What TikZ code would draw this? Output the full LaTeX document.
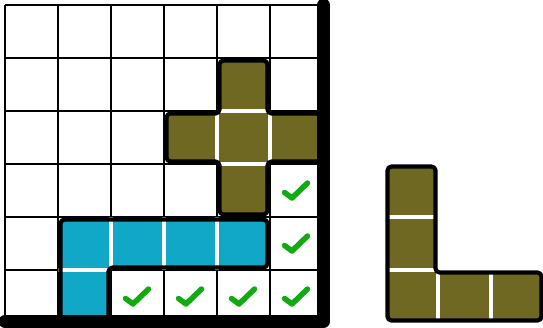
\documentclass[tikz,border=0pt]{standalone}
\definecolor{olive}{RGB}{110,104,34}
\definecolor{cyanpiece}{RGB}{16,168,198}
\definecolor{checkgreen}{RGB}{17,170,17}
\tikzset{
  gridline/.style={line width=1.1pt, black},
  pieceline/.style={line width=4.2pt, black, rounded corners=4pt, line join=round},
  sepline/.style={line width=4pt, white},
  checkmark/.style={line width=5.5pt, checkgreen, line cap=round, line join=round},
  border/.style={line width=13pt, black, line cap=round, line join=round}
}
\begin{document}
\begin{tikzpicture}[x=1pt,y=-1pt]
\useasboundingbox (0,0) rectangle (543,327);
% grid
\foreach \v in {5,58,111,164,217,270,323} {
  \draw[gridline] (\v,5) -- (\v,323);
  \draw[gridline] (5,\v) -- (323,\v);
}
% olive plus piece
\fill[olive, rounded corners=4pt] (219.5,60.5) -- (267.5,60.5) -- (267.5,113.5) -- (320.5,113.5) -- (320.5,161.5) -- (267.5,161.5) -- (267.5,214.5) -- (219.5,214.5) -- (219.5,161.5) -- (166.5,161.5) -- (166.5,113.5) -- (219.5,113.5) -- cycle;
\draw[sepline] (217,111) -- (270,111) (217,164) -- (270,164) (217,111) -- (217,164) (270,111) -- (270,164);
\draw[pieceline] (219.5,60.5) -- (267.5,60.5) -- (267.5,113.5) -- (320.5,113.5) -- (320.5,161.5) -- (267.5,161.5) -- (267.5,214.5) -- (219.5,214.5) -- (219.5,161.5) -- (166.5,161.5) -- (166.5,113.5) -- (219.5,113.5) -- cycle;
% blue piece
\fill[cyanpiece, rounded corners=4pt] (60.5,219.5) -- (267.5,219.5) -- (267.5,267.5) -- (108.5,267.5) -- (108.5,320.5) -- (60.5,320.5) -- cycle;
\draw[sepline] (111,217) -- (111,270) (164,217) -- (164,270) (217,217) -- (217,270) (58,270) -- (111,270);
\draw[pieceline] (60.5,219.5) -- (267.5,219.5) -- (267.5,267.5) -- (108.5,267.5) -- (108.5,320.5) -- (60.5,320.5) -- cycle;
% L piece
\fill[olive, rounded corners=4pt] (387.5,166.5) -- (435.5,166.5) -- (435.5,272.5) -- (541.5,272.5) -- (541.5,320.5) -- (387.5,320.5) -- cycle;
\draw[sepline] (385,217) -- (438,217) (385,270) -- (438,270) (438,270) -- (438,323) (491,270) -- (491,323);
\draw[pieceline] (387.5,166.5) -- (435.5,166.5) -- (435.5,272.5) -- (541.5,272.5) -- (541.5,320.5) -- (387.5,320.5) -- cycle;
% check marks
\foreach \c/\r in {5/3,5/4,2/5,3/5,4/5,5/5} {
  \pgfmathsetmacro{\cx}{5+53*\c+26.5}
  \pgfmathsetmacro{\cy}{5+53*\r+26.5}
  \draw[checkmark] (\cx-12,\cy+2) -- (\cx-4.5,\cy+7.5) -- (\cx+11,\cy-7.5);
}
% thick border
\draw[border] (5,321.5) -- (323.5,321.5) -- (323.5,5);
\end{tikzpicture}
\end{document}
